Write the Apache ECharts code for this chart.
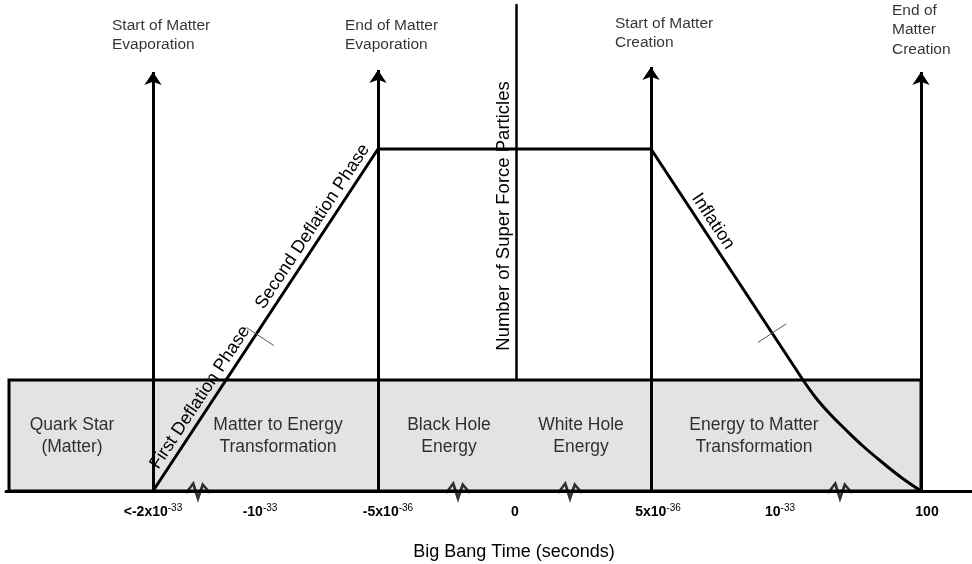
<!DOCTYPE html>
<html>
<head>
<meta charset="utf-8">
<script src="https://cdn.jsdelivr.net/npm/echarts@6/dist/echarts.min.js"></script>
<style>
  html, body { margin: 0; padding: 0; background: #fff; }
  #main { width: 972px; height: 564px; }
</style>
</head>
<body>
<div id="main"></div>
<script>
// diagram units: x = offset from the Big Bang line, y = super force particles (schematic)
var tickBase = ['<-2x10', '-10', '-5x10', '0', '5x10', '10', '100'];
var tickExp = ['-33', '-33', '-36', '', '-36', '-33', ''];
var tickX = [-363, -256, -128, -1, 142, 264, 411];

// deflation, plateau and the straight part of inflation
var lineX = [-363, -138, 135, 287];
var lineY = [0, 342, 342, 111];
// the bent end of inflation
var tailX = [287, 300, 314, 330, 348, 367, 386, 405];
var tailY = [111, 93, 77, 61, 44, 28, 13, 0];

var arrowX = [-363, -138, 135, 405];
var arrowTop = [419, 421, 424, 419];
var axisTop = 486;

var boxLeft = -507, boxRight = 405, boxTop = 111;
var breakX = [-318, -58, 54, 324];

var regionNames = ['Quark Star\n(Matter)', 'Matter to Energy\nTransformation', 'Black Hole\nEnergy', 'White Hole\nEnergy', 'Energy to Matter\nTransformation'];
var regionX = [-444, -238, -67, 65, 238];
var regionY = [55, 55, 55, 55, 55];

var eventNames = ['Start of Matter\nEvaporation', 'End of Matter\nEvaporation', 'Start of Matter\nCreation', 'End of\nMatter\nCreation'];
var eventX = [-404, -171, 99, 376];
var eventY = [456, 456, 458, 461];

var phaseNames = ['First Deflation Phase', 'Second Deflation Phase', 'Inflation'];
var phaseSeg = [0, 0, 2];
var phaseAt = [0.254, 0.754, 0.342];
var crossSeg = [0, 2];
var crossAt = [0.459, 0.797];

var FONT = 'Liberation Sans, Arial, sans-serif';

var chart = echarts.init(document.getElementById('main'));

var line = lineX.map(function (x, i) { return [x, lineY[i]]; });
var tail = tailX.map(function (x, i) { return [x, tailY[i]]; });
var arrows = arrowX.map(function (x, i) {
    return [{ coord: [x, 0] }, { coord: [x, arrowTop[i]] }];
});

var option = {
    animation: false,
    grid: { left: 6, right: 0, top: 5, bottom: 73, outerBoundsMode: 'none' },
    xAxis: {
        type: 'value', min: -510, max: 456,
        splitLine: { show: false },
        axisTick: { show: false },
        axisLine: { lineStyle: { color: '#000', width: 3 } },
        axisLabel: {
            customValues: tickX,
            margin: 12,
            formatter: function (v) {
                var i = tickX.indexOf(v);
                if (i < 0) return '';
                return '{b|' + tickBase[i] + '}' + (tickExp[i] ? '{s|' + tickExp[i] + '}' : '');
            },
            rich: {
                b: { fontFamily: FONT, fontWeight: 'bold', fontSize: 14, color: '#000', lineHeight: 18 },
                s: { fontFamily: FONT, fontSize: 10, color: '#000', verticalAlign: 'top', lineHeight: 12 }
            }
        },
        name: 'Big Bang Time (seconds)',
        nameLocation: 'middle',
        nameGap: 52,
        nameTextStyle: { fontFamily: FONT, fontSize: 18, color: '#000', padding: [0, 0, 0, 50] }
    },
    yAxis: {
        type: 'value', min: 0, max: axisTop,
        splitLine: { show: false },
        axisTick: { show: false },
        axisLabel: { show: false },
        axisLine: { onZero: true, lineStyle: { color: '#000', width: 2.5 } }
    },
    series: [
        {
            type: 'line',
            data: line,
            symbol: 'none',
            lineStyle: { color: '#000', width: 3 },
            z: 5,
            markArea: {
                silent: true,
                itemStyle: { color: '#e3e3e3', borderColor: '#000', borderWidth: 3 },
                data: [[{ coord: [boxLeft, 0] }, { coord: [boxRight, boxTop] }]]
            },
            markLine: {
                silent: true,
                symbol: ['none', 'arrow'],
                symbolSize: 13,
                label: { show: false },
                lineStyle: { color: '#000', width: 3, type: 'solid' },
                data: arrows
            }
        },
        {
            type: 'line',
            data: tail,
            symbol: 'none',
            smooth: 0.4,
            lineStyle: { color: '#000', width: 3 },
            z: 5
        },
        {
            type: 'scatter',
            data: breakX.map(function (x) { return [x, 0]; }),
            symbol: 'path://M0 10 L6 1 L10 15 L14 2 L20 10',
            symbolSize: [24, 15],
            itemStyle: { color: 'none', borderColor: '#000', borderWidth: 2.2 },
            z: 6,
            silent: true
        },
        {
            type: 'scatter',
            data: regionNames.map(function (n, i) { return [regionX[i], regionY[i], n]; }),
            symbolSize: 0,
            silent: true,
            z: 7,
            label: {
                show: true, position: 'inside',
                formatter: function (p) { return p.data[2]; },
                fontFamily: FONT, fontSize: 17.5, color: '#000', lineHeight: 22, align: 'center'
            }
        },
        {
            type: 'scatter',
            data: eventNames.map(function (n, i) { return [eventX[i], eventY[i], n]; }),
            symbolSize: 0,
            silent: true,
            label: {
                show: true, position: 'inside',
                formatter: function (p) { return p.data[2]; },
                fontFamily: FONT, fontSize: 15.5, color: '#000', lineHeight: 19.5, align: 'left'
            }
        }
    ]
};
chart.setOption(option);

function along(seg, t, d) {
    var a = chart.convertToPixel({ gridIndex: 0 }, line[seg]);
    var b = chart.convertToPixel({ gridIndex: 0 }, line[seg + 1]);
    var dx = b[0] - a[0], dy = b[1] - a[1];
    var len = Math.sqrt(dx * dx + dy * dy);
    var ux = dx / len, uy = dy / len;
    var nx = uy, ny = -ux;
    if (ny > 0) { nx = -nx; ny = -ny; }
    return {
        x: a[0] + t * dx + d * nx, y: a[1] + t * dy + d * ny,
        rot: Math.atan2(-dy, dx), nx: nx, ny: ny
    };
}

var graphics = [];
phaseNames.forEach(function (name, i) {
    var p = along(phaseSeg[i], phaseAt[i], 12);
    graphics.push({
        type: 'text', x: p.x, y: p.y, rotation: p.rot, z: 10,
        style: { text: name, fill: '#000', fontFamily: FONT, fontSize: 18, align: 'center', verticalAlign: 'middle' }
    });
});
var crossLen = [[12, -21], [17, -17]];
crossSeg.forEach(function (seg, i) {
    var c = along(seg, crossAt[i], 0);
    graphics.push({
        type: 'line', z: 10,
        shape: {
            x1: c.x + crossLen[i][0] * c.nx, y1: c.y + crossLen[i][0] * c.ny,
            x2: c.x + crossLen[i][1] * c.nx, y2: c.y + crossLen[i][1] * c.ny
        },
        style: { stroke: '#555', lineWidth: 1 }
    });
});
var yName = chart.convertToPixel({ gridIndex: 0 }, [-12, 275]);
graphics.push({
    type: 'text', x: yName[0], y: yName[1], rotation: Math.PI / 2, z: 10,
    style: { text: 'Number of Super Force Particles', fill: '#000', fontFamily: FONT, fontSize: 18.5, align: 'center', verticalAlign: 'middle' }
});
chart.setOption({ graphic: graphics });
</script>
</body>
</html>
